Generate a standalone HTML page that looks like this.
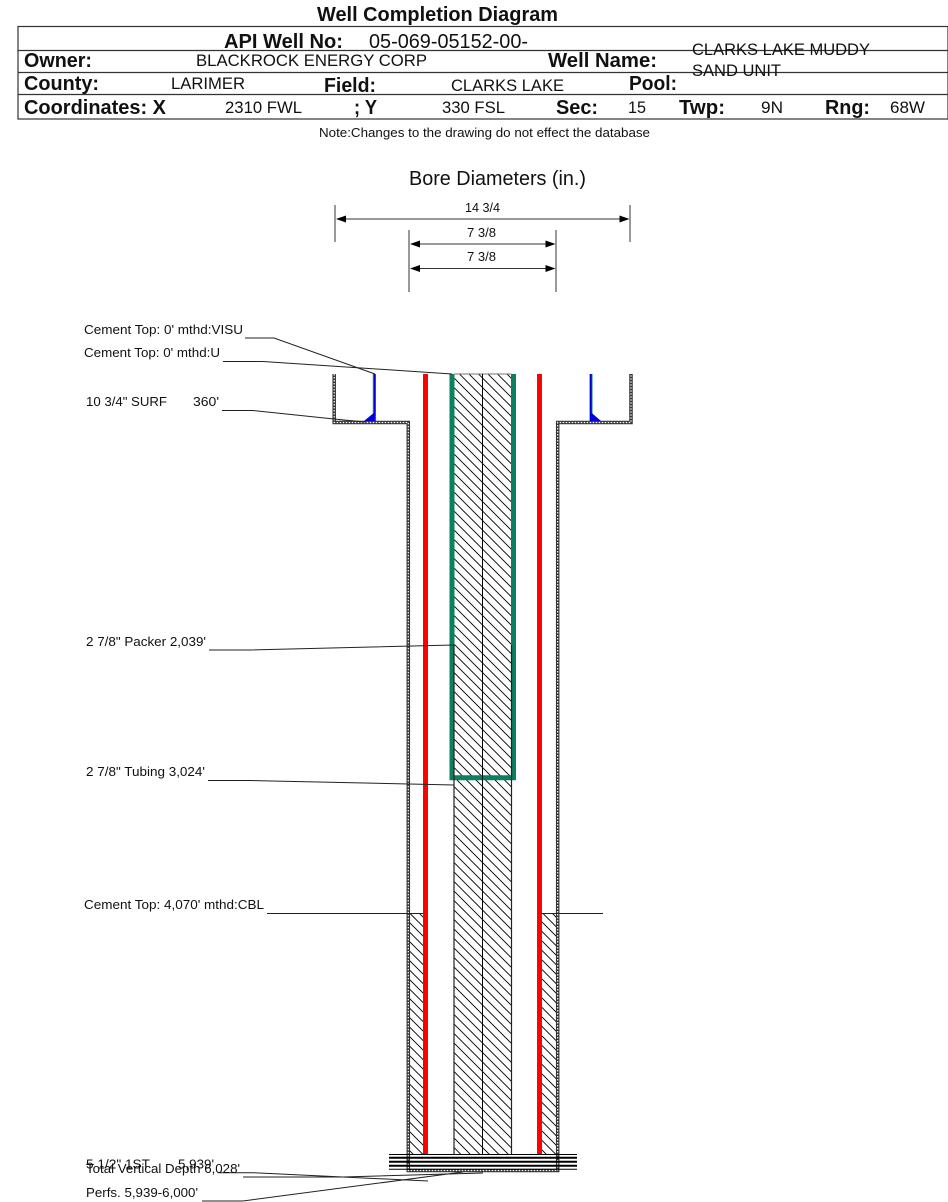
<!DOCTYPE html>
<html><head><meta charset="utf-8"><style>
html,body{margin:0;padding:0;background:#fff;width:948px;height:1202px;overflow:hidden}
svg{display:block}
text{font-family:"Liberation Sans",sans-serif;fill:#111}
.b{font-weight:bold}
.v{font-size:16.7px}
.h{font-size:20px;font-weight:bold}
.l{font-size:13.33px}
</style></head><body>
<svg width="948" height="1202" viewBox="0 0 948 1202" xmlns="http://www.w3.org/2000/svg">
<defs>
<pattern id="hat" width="9.500" height="9.500" patternUnits="userSpaceOnUse">
<path d="M-2,-2L11.500,11.500M-2,7.500L2,11.500M7.500,-2L11.500,2" stroke="#000" stroke-width="0.900" fill="none"/>
</pattern>
</defs>

<!-- header -->
<text class="b" x="317" y="21" font-size="20" textLength="241" lengthAdjust="spacingAndGlyphs">Well Completion Diagram</text>
<g stroke="#333" stroke-width="1.2" fill="none">
<rect x="18" y="26.5" width="930" height="92.5"/>
<path d="M18,50.5H948M18,72.5H948M18,94.5H948"/>
</g>
<text class="h" x="224" y="48" textLength="119" lengthAdjust="spacingAndGlyphs">API Well No:</text>
<text x="369" y="48" style="font-size:20px" textLength="159" lengthAdjust="spacingAndGlyphs">05-069-05152-00-</text>
<text class="h" x="24" y="67" textLength="68" lengthAdjust="spacingAndGlyphs">Owner:</text>
<text class="v" x="196" y="66" textLength="231" lengthAdjust="spacingAndGlyphs">BLACKROCK ENERGY CORP</text>
<text class="h" x="548" y="67" textLength="109" lengthAdjust="spacingAndGlyphs">Well Name:</text>
<text class="v" x="692" y="55" textLength="178" lengthAdjust="spacingAndGlyphs">CLARKS LAKE MUDDY</text>
<text class="v" x="692" y="76" textLength="89" lengthAdjust="spacingAndGlyphs">SAND UNIT</text>
<text class="h" x="24" y="90" textLength="75" lengthAdjust="spacingAndGlyphs">County:</text>
<text class="v" x="171" y="89" textLength="74" lengthAdjust="spacingAndGlyphs">LARIMER</text>
<text class="h" x="324" y="92" textLength="52" lengthAdjust="spacingAndGlyphs">Field:</text>
<text class="v" x="451" y="91" textLength="113" lengthAdjust="spacingAndGlyphs">CLARKS LAKE</text>
<text class="h" x="629" y="90" textLength="48" lengthAdjust="spacingAndGlyphs">Pool:</text>
<text class="h" x="24" y="114" textLength="142" lengthAdjust="spacingAndGlyphs">Coordinates: X</text>
<text class="v" x="225" y="113" textLength="77" lengthAdjust="spacingAndGlyphs">2310 FWL</text>
<text class="h" x="354" y="114" textLength="23" lengthAdjust="spacingAndGlyphs">; Y</text>
<text class="v" x="442" y="113" textLength="63" lengthAdjust="spacingAndGlyphs">330 FSL</text>
<text class="h" x="556" y="114" textLength="42" lengthAdjust="spacingAndGlyphs">Sec:</text>
<text class="v" x="628" y="113" textLength="18" lengthAdjust="spacingAndGlyphs">15</text>
<text class="h" x="679" y="114" textLength="46" lengthAdjust="spacingAndGlyphs">Twp:</text>
<text class="v" x="761" y="113" textLength="22" lengthAdjust="spacingAndGlyphs">9N</text>
<text class="h" x="825" y="114" textLength="45" lengthAdjust="spacingAndGlyphs">Rng:</text>
<text class="v" x="890" y="113" textLength="35" lengthAdjust="spacingAndGlyphs">68W</text>
<text x="319" y="137" font-size="12.800" textLength="331" lengthAdjust="spacingAndGlyphs">Note:Changes to the drawing do not effect the database</text>

<!-- bore diameters -->
<text x="409" y="185" font-size="20" textLength="177" lengthAdjust="spacingAndGlyphs">Bore Diameters (in.)</text>
<text x="465" y="212" font-size="13" textLength="35" lengthAdjust="spacingAndGlyphs">14 3/4</text>
<text x="467" y="237" font-size="13" textLength="29" lengthAdjust="spacingAndGlyphs">7 3/8</text>
<text x="467" y="261" font-size="13" textLength="29" lengthAdjust="spacingAndGlyphs">7 3/8</text>
<g stroke="#333" stroke-width="1" fill="none">
<path d="M335,205V242M630,205V242M409,230V292M556,230V292"/>
<path d="M345,219H620M419,244H546M419,268.500H546"/>
</g>
<g fill="#000">
<path d="M336,219l10,-3.500v7zM629.500,219l-10,-3.500v7z"/>
<path d="M410,244l10,-3.500v7zM555.500,244l-10,-3.500v7z"/>
<path d="M410,268.500l10,-3.500v7zM555.500,268.500l-10,-3.500v7z"/>
</g>

<!-- hatched fills -->
<rect x="454" y="374" width="57.500" height="780.500" fill="url(#hat)"/>
<rect x="409" y="913.500" width="14" height="241" fill="url(#hat)"/>
<rect x="542" y="913.500" width="14" height="241" fill="url(#hat)"/>

<!-- casing -->
<g fill="none">
<path d="M334.200,374V422.500H408.300V1170.500H557.700V422.500H631V374" stroke="#333" stroke-width="3.500"/>
<path d="M334.200,374V422.500H408.300V1170.500H557.700V422.500H631V374" stroke="#fff" stroke-width="1.200" stroke-dasharray="1.500 1.500"/>
</g>

<!-- surface inner string and cement -->
<g>
<rect x="372.800" y="374" width="3" height="47" fill="#0a8060"/>
<rect x="374" y="374" width="1.600" height="42" fill="#0000d0"/>
<path d="M364,421L375.500,411.500V421Z" fill="#0000e0"/>
<rect x="589.500" y="374" width="3" height="47" fill="#0a8060"/>
<rect x="590" y="374" width="1.600" height="42" fill="#0000d0"/>
<path d="M590,411.500L601,421H590Z" fill="#0000e0"/>
</g>

<!-- red strings -->
<rect x="423" y="374" width="5" height="780.500" fill="#0a7a30"/>
<rect x="423.700" y="374" width="3.800" height="780.500" fill="#f00"/>
<rect x="537" y="374" width="5" height="780.500" fill="#0a7a30"/>
<rect x="537.500" y="374" width="3.800" height="780.500" fill="#f00"/>

<!-- tubing -->
<path d="M452,374V777.800H513.500V374" fill="none" stroke="#0a8060" stroke-width="5"/>
<path d="M454,374H511.500" stroke="#777" stroke-width="1"/>
<path d="M482.500,374V1154.500" stroke="#000" stroke-width="1"/>
<path d="M454,645V1154.500M511.500,645V1154.500" stroke="#222" stroke-width="1.200"/>

<!-- perforations -->
<g stroke="#000">
<path d="M389,1154.500H577" stroke-width="1"/>
<path d="M389,1157.700H577" stroke-width="2"/>
<path d="M389,1161.700H577" stroke-width="2"/>
<path d="M389,1165.700H577" stroke-width="2"/>
<path d="M389,1169.300H577" stroke-width="1"/>
</g>

<!-- leaders -->
<g fill="none" stroke="#222" stroke-width="1">
<path d="M245,338H274L375,374"/>
<path d="M223,361.500H263L452,374"/>
<path d="M222,410.500H253L334,419L365,422"/>
<path d="M209,650H250L454,645"/>
<path d="M208,780.500H250L454,785"/>
<path d="M267,913.500H423M541,913.500H603"/>
<path d="M218,1172.700H253L428,1181"/>
<path d="M243,1177H343L483,1173"/>
<path d="M202,1201H243L463,1172"/>
</g>

<!-- labels -->
<text class="l" x="84" y="334" textLength="159" lengthAdjust="spacingAndGlyphs">Cement Top: 0' mthd:VISU</text>
<text class="l" x="84" y="357" textLength="136" lengthAdjust="spacingAndGlyphs">Cement Top: 0' mthd:U</text>
<text class="l" x="86" y="406" textLength="81" lengthAdjust="spacingAndGlyphs">10 3/4" SURF</text>
<text class="l" x="193" y="406" textLength="26" lengthAdjust="spacingAndGlyphs">360'</text>
<text class="l" x="86" y="646" textLength="120" lengthAdjust="spacingAndGlyphs">2 7/8" Packer 2,039'</text>
<text class="l" x="86" y="776" textLength="119" lengthAdjust="spacingAndGlyphs">2 7/8" Tubing 3,024'</text>
<text class="l" x="84" y="909" textLength="180" lengthAdjust="spacingAndGlyphs">Cement Top: 4,070' mthd:CBL</text>
<text class="l" x="86" y="1168.500" textLength="64" lengthAdjust="spacingAndGlyphs">5 1/2" 1ST</text>
<text class="l" x="178" y="1168.500" textLength="36" lengthAdjust="spacingAndGlyphs">5,939'</text>
<text class="l" x="86" y="1173" textLength="154" lengthAdjust="spacingAndGlyphs">Total Vertical Depth 6,028'</text>
<text class="l" x="86" y="1197" textLength="112" lengthAdjust="spacingAndGlyphs">Perfs. 5,939-6,000'</text>
</svg>
</body></html>
